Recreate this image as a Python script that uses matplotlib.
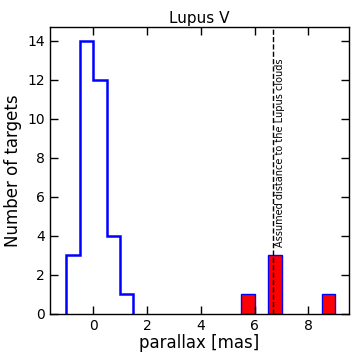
import matplotlib
matplotlib.use("Agg")
import matplotlib.pyplot as plt
import numpy as np

blue_counts = [3, 14, 12, 4, 1]          # bins from -1.0 to 1.5
blue_edges = [-1.0, -0.5, 0.0, 0.5, 1.0, 1.5]
red_lefts = [5.5, 6.5, 8.5]
red_counts = [1, 3, 1]
red_width = 0.5
lupus_parallax = 1000.0 / 150.0

fig = plt.figure(figsize=(3.6, 3.6), dpi=100)
ax = fig.add_axes([0.139, 0.128, 0.830, 0.797])

ax.stairs(blue_counts, blue_edges, color="blue", linewidth=1.8, baseline=0)
ax.bar(red_lefts, red_counts, width=red_width, align="edge",
       color="red", edgecolor="blue", linewidth=1.0)
ax.axvline(lupus_parallax, color="black", linestyle="--", linewidth=1.0)
ax.text(lupus_parallax + 0.08, 3.45, "Assumed distance to the Lupus clouds",
        rotation=90, fontsize=7, ha="left", va="bottom")

ax.set_xlim(-1.6, 9.5)
ax.set_ylim(0, 14.7)
ax.set_xticks([0, 2, 4, 6, 8])
ax.set_yticks(range(0, 15, 2))
ax.tick_params(direction="in", top=True, right=True, length=6, width=1, labelsize=10)
ax.set_xlabel("parallax [mas]", fontsize=12, labelpad=1)
ax.set_ylabel("Number of targets", fontsize=12)
ax.set_title("Lupus V", fontsize=11, pad=3)
for s in ax.spines.values():
    s.set_linewidth(1.0)

fig.savefig("out.png", dpi=100)
